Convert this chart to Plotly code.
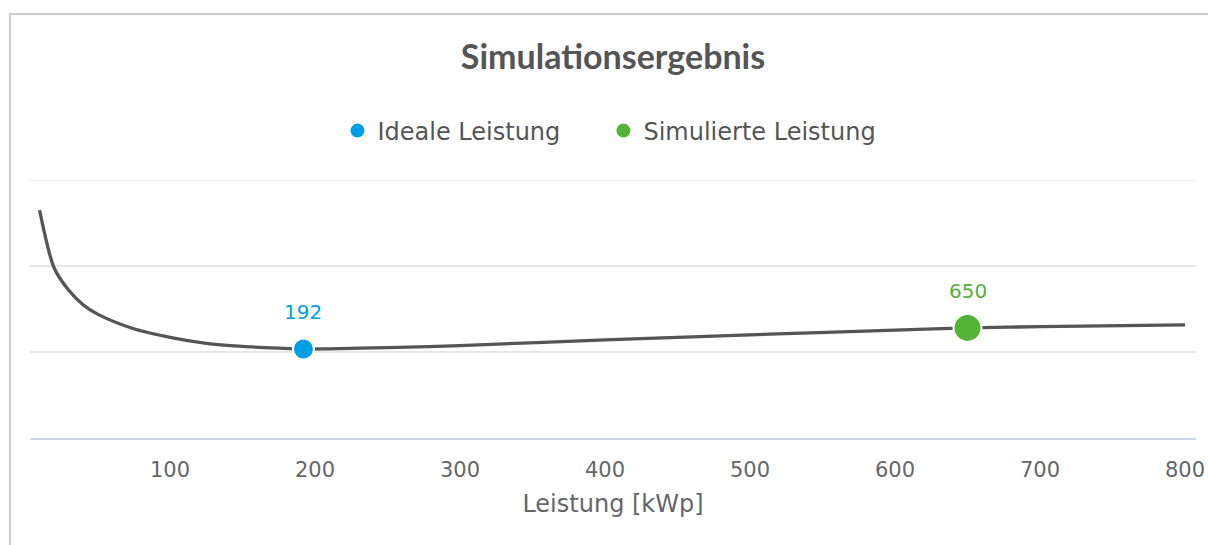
import plotly.graph_objects as go

# ---- data ----
curve_x = [10, 20, 30, 40, 50, 75, 100, 125, 150, 175, 192, 250, 300, 400, 500, 600, 650, 700, 800]
curve_y = [2.65, 1.98, 1.72, 1.55, 1.44, 1.27, 1.17, 1.10, 1.065, 1.045, 1.035, 1.05, 1.075, 1.14, 1.20, 1.255, 1.28, 1.295, 1.315]

ideal_x = [192]
ideal_y = [1.035]
sim_x = [650]
sim_y = [1.28]

x_ticks = [100, 200, 300, 400, 500, 600, 700, 800]
y_grid = [0, 1, 2, 3]

title_text = "Simulationsergebnis"
x_title = "Leistung [kWp]"
ideal_name = "Ideale Leistung"
sim_name = "Simulierte Leistung"

BLUE = "#009fe3"
GREEN = "#52b335"
LINE = "#555555"
FONT = "DejaVu Sans"

W, H = 1208, 545
ML, MR, MT, MB = 30, 12, 180, 107

fig = go.Figure()
fig.add_trace(go.Scatter(x=curve_x, y=curve_y, mode="lines",
                         line=dict(color=LINE, width=3.3, shape="spline", smoothing=0.8),
                         showlegend=False, hoverinfo="skip"))
fig.add_trace(go.Scatter(x=ideal_x, y=ideal_y, mode="markers",
                         name=ideal_name + "\u00a0" * 5,
                         marker=dict(color=BLUE, size=21, line=dict(color="white", width=2))))
fig.add_trace(go.Scatter(x=sim_x, y=sim_y, mode="markers", name=sim_name,
                         marker=dict(color=GREEN, size=28, line=dict(color="white", width=2))))

annotations = []
for xs, ys, col in [(ideal_x, ideal_y, BLUE), (sim_x, sim_y, GREEN)]:
    for xv, yv in zip(xs, ys):
        annotations.append(dict(x=xv, y=yv, xref="x", yref="y", text=str(xv), showarrow=False,
                                yshift=37, font=dict(family=FONT, size=20, color=col)))

pw = W - ML - MR
ph = H - MT - MB
def px2paper_x(px):
    return (px - ML) / pw
def py2paper_y(py):
    return (H - MB - py) / ph

shapes = [dict(type="path", xref="paper", yref="paper",
               path=f"M {px2paper_x(10)} {py2paper_y(547)} L {px2paper_x(10)} {py2paper_y(14)} L {px2paper_x(1212)} {py2paper_y(14)}",
               line=dict(color="#cccccc", width=2))]
# top gridline (Plotly omits a gridline at the range edge)
shapes.append(dict(type="line", xref="paper", yref="y", x0=0, x1=1, y0=y_grid[-1], y1=y_grid[-1],
                   line=dict(color="#e6e6e6", width=1.5), layer="below"))

fig.update_layout(
    width=W, height=H,
    margin=dict(l=ML, r=MR, t=MT, b=MB, autoexpand=False),
    paper_bgcolor="white", plot_bgcolor="white",
    title=dict(text=f"<b>{title_text}</b>", x=0.5, xref="paper", y=1 - 57 / H, yref="container",
               xanchor="center", yanchor="middle",
               font=dict(family="Lato", size=34, color="#555555")),
    legend=dict(orientation="h", x=0.497, xanchor="center", y=py2paper_y(131), yanchor="middle",
                font=dict(family=FONT, size=24, color="#555555"),
                itemsizing="trace", bgcolor="rgba(0,0,0,0)"),
    xaxis=dict(range=[3.4, 807.6], tickvals=x_ticks, showgrid=False, zeroline=False,
               showline=True, linecolor="#ccd6eb", linewidth=2,
               ticks="outside", ticklen=12, tickcolor="rgba(0,0,0,0)",
               tickfont=dict(family=FONT, size=21, color="#666666"),
               title=dict(text=x_title, standoff=14, font=dict(family=FONT, size=24, color="#666666"))),
    yaxis=dict(range=[y_grid[0], y_grid[-1]], tickvals=y_grid, showticklabels=False, showgrid=True,
               gridcolor="#e6e6e6", gridwidth=1.5, zeroline=False, showline=False),
    annotations=annotations,
    shapes=shapes,
    showlegend=True,
)

fig.write_html("out.html", config={"displayModeBar": False},
               post_script="document.body.style.margin='0';document.body.style.padding='0';")
